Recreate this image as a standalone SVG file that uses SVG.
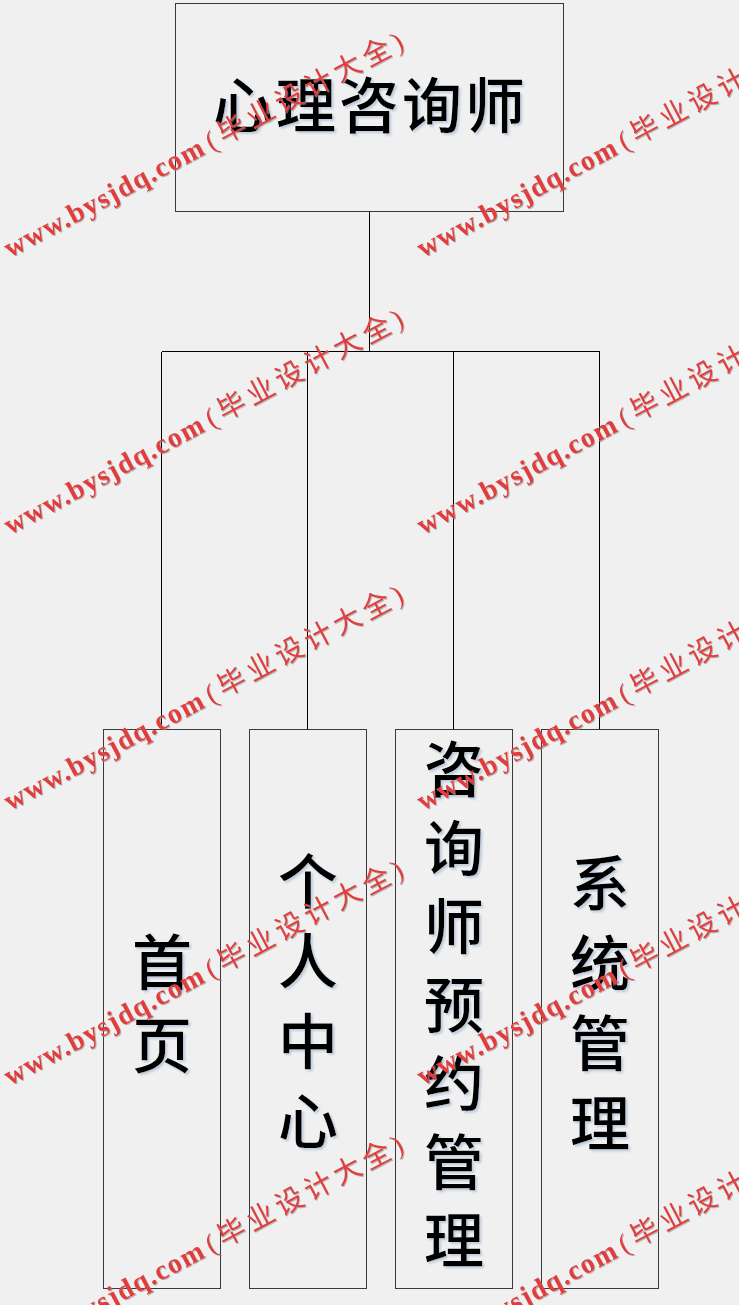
<svg xmlns="http://www.w3.org/2000/svg" width="739" height="1305" viewBox="0 0 739 1305">
<defs>
<style>
.box{fill:#f0f0f0;stroke:#3a3a3a;stroke-width:1;shape-rendering:crispEdges}
.conn{fill:none;stroke:#000;stroke-width:1;shape-rendering:crispEdges}
.lbl{font-family:"Noto Sans CJK SC","Noto Sans",sans-serif;font-size:60px;font-weight:500;fill:#000;text-anchor:middle}
.wl{font-family:"Liberation Serif",serif;font-size:28px;font-weight:bold;fill:#e23d3d}
.wc{font-family:"Liberation Serif","Noto Sans CJK SC",serif;font-size:28px;fill:#e23d3d}
</style>
<filter id="ts" x="-10%" y="-10%" width="130%" height="130%">
<feDropShadow dx="2" dy="2" stdDeviation="1.2" flood-color="#9fb2cc" flood-opacity="0.6"/>
</filter>
<filter id="ws" x="-5%" y="-20%" width="110%" height="140%">
<feDropShadow dx="1" dy="1" stdDeviation="0.6" flood-color="#8a8a8a" flood-opacity="0.6"/>
</filter>
<g id="wm">
<text class="wl" x="0" y="0" textLength="222" lengthAdjust="spacing">www.bysjdq.com</text>
<text class="wc" x="228" y="0" textLength="220" lengthAdjust="spacing">(毕业设计大全)</text>
</g>
</defs>
<rect x="0" y="0" width="739" height="1305" fill="#f0f0f0"/>
<g id="connectors">
<path class="conn" d="M369.5 211.5V351.5M161.5 351.5H599.5M161.5 351.5V729.5M307.5 351.5V729.5M453.5 351.5V729.5M599.5 351.5V729.5"/>
</g>
<g id="node-root">
<rect class="box" x="175.5" y="3.5" width="388" height="208"/>
<text class="lbl" x="370.5" y="128" letter-spacing="3" filter="url(#ts)">心理咨询师</text>
</g>
<g id="node-home">
<rect class="box" x="103.5" y="729.5" width="117" height="559"/>
<text class="lbl" filter="url(#ts)"><tspan x="162" y="985">首</tspan><tspan x="162" y="1068">页</tspan></text>
</g>
<g id="node-personal">
<rect class="box" x="249.5" y="729.5" width="117" height="559"/>
<text class="lbl" filter="url(#ts)"><tspan x="308" y="904">个</tspan><tspan x="308" y="984">人</tspan><tspan x="308" y="1064">中</tspan><tspan x="308" y="1144">心</tspan></text>
</g>
<g id="node-booking">
<rect class="box" x="395.5" y="729.5" width="117" height="559"/>
<text class="lbl" filter="url(#ts)"><tspan x="454" y="792">咨</tspan><tspan x="454" y="870.5">询</tspan><tspan x="454" y="949">师</tspan><tspan x="454" y="1027.5">预</tspan><tspan x="454" y="1106">约</tspan><tspan x="454" y="1184.5">管</tspan><tspan x="454" y="1263">理</tspan></text>
</g>
<g id="node-system">
<rect class="box" x="541.5" y="729.5" width="117" height="559"/>
<text class="lbl" filter="url(#ts)"><tspan x="600" y="906">系</tspan><tspan x="600" y="986">统</tspan><tspan x="600" y="1066">管</tspan><tspan x="600" y="1146">理</tspan></text>
</g>
<g id="watermarks" filter="url(#ws)">
<use href="#wm" transform="translate(10 258) rotate(-28)"/>
<use href="#wm" transform="translate(423 258) rotate(-28)"/>
<use href="#wm" transform="translate(10 535) rotate(-28)"/>
<use href="#wm" transform="translate(423 535) rotate(-28)"/>
<use href="#wm" transform="translate(10 811) rotate(-28)"/>
<use href="#wm" transform="translate(423 811) rotate(-28)"/>
<use href="#wm" transform="translate(10 1086) rotate(-28)"/>
<use href="#wm" transform="translate(423 1086) rotate(-28)"/>
<use href="#wm" transform="translate(10 1361) rotate(-28)"/>
<use href="#wm" transform="translate(423 1361) rotate(-28)"/>
</g>
</svg>
